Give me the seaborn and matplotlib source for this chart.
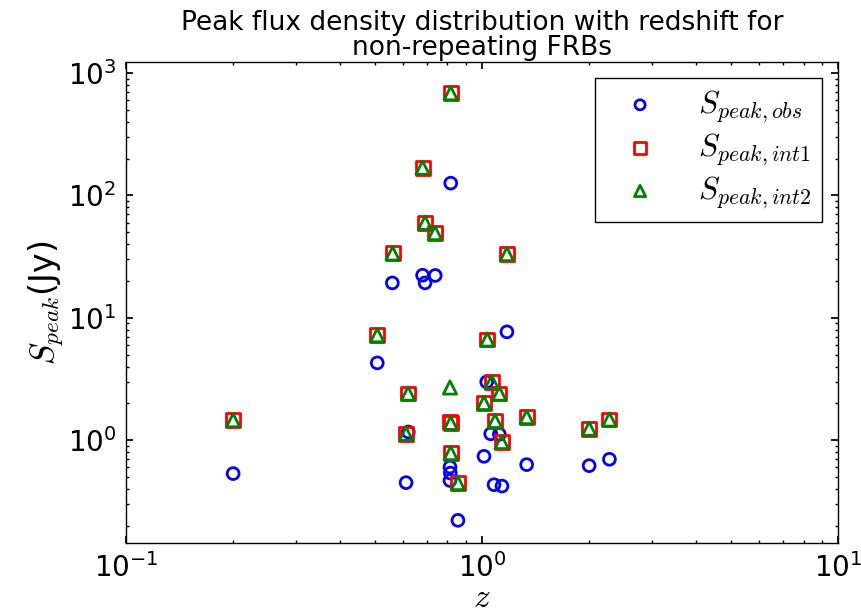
import numpy as np
import pandas as pd
import seaborn as sns
import matplotlib
matplotlib.use("Agg")
import matplotlib.pyplot as plt
from matplotlib.ticker import LogLocator

# ---- data ----
z_obs = [0.20, 0.508, 0.560, 0.612, 0.621, 0.681, 0.692, 0.739, 0.817, 0.813,
         0.815, 0.813, 0.856, 1.013, 1.031, 1.058, 1.081, 1.119, 1.138, 1.175,
         1.335, 2.00, 2.28]
s_obs = [0.535, 4.29, 19.3, 0.451, 1.17, 22.3, 19.3, 22.2, 126.0, 0.605,
         0.54, 0.47, 0.222, 0.74, 3.0, 1.13, 0.434, 1.12, 0.423, 7.69,
         0.633, 0.621, 0.70]

z_int = [0.20, 0.508, 0.561, 0.612, 0.620, 0.681, 0.692, 0.738, 0.817, 0.817,
         0.813, 0.817, 0.856, 1.013, 1.035, 1.065, 1.088, 1.119, 1.136, 1.175,
         1.335, 2.00, 2.28]
s_int1 = [1.46, 7.22, 33.6, 1.13, 2.41, 168.6, 59.8, 49.3, 684.0, 1.38,
          1.40, 0.787, 0.448, 2.02, 6.66, 3.0, 1.44, 2.41, 0.969, 33.2,
          1.55, 1.245, 1.48]
s_int2 = [1.46, 7.22, 33.6, 1.13, 2.41, 168.6, 59.8, 49.3, 684.0, 1.38,
          2.70, 0.787, 0.448, 2.02, 6.66, 3.0, 1.44, 2.41, 0.969, 33.2,
          1.55, 1.245, 1.48]

labels = [r'$S_{peak,obs}$', r'$S_{peak,int1}$', r'$S_{peak,int2}$']
title = "Peak flux density distribution with redshift for\nnon-repeating FRBs"

sns.set_theme(style="white")
plt.rcParams.update({
    "font.family": ["DejaVu Sans"],
    "mathtext.fontset": "cm",
    "text.color": "black",
    "axes.labelcolor": "black",
    "axes.edgecolor": "black",
    "axes.linewidth": 1.0,
    "xtick.direction": "in",
    "ytick.direction": "in",
    "xtick.top": True,
    "ytick.right": True,
    "xtick.bottom": True,
    "ytick.left": True,
    "xtick.major.size": 5,
    "ytick.major.size": 5,
    "xtick.minor.size": 2.5,
    "ytick.minor.size": 2.5,
    "xtick.color": "black",
    "ytick.color": "black",
    "xtick.labelsize": 20,
    "ytick.labelsize": 20,
    "xtick.major.pad": 7,
    "ytick.major.pad": 7,
})

fig = plt.figure(figsize=(8.61, 6.16), dpi=100)
ax = fig.add_axes([0.1463, 0.1185, 0.827, 0.7809])

df_obs = pd.DataFrame({"z": z_obs, "S": s_obs})
df_int = pd.DataFrame({"z": z_int, "S1": s_int1, "S2": s_int2})

sns.scatterplot(data=df_obs, x="z", y="S", ax=ax, marker="o", s=8.5 ** 2,
                facecolors="none", edgecolor="blue", linewidth=2,
                label=labels[0], zorder=3)
sns.scatterplot(data=df_int, x="z", y="S1", ax=ax, marker="s", s=10 ** 2,
                facecolors="none", edgecolor="red", linewidth=2,
                label=labels[1], zorder=4)
sns.scatterplot(data=df_int, x="z", y="S2", ax=ax, marker="^", s=9.5 ** 2,
                facecolors="none", edgecolor="green", linewidth=2,
                label=labels[2], zorder=5)

ax.set_xscale("log")
ax.set_yscale("log")
ax.set_xlim(0.1, 10)
ax.set_ylim(0.145, 1230)
for axis in (ax.xaxis, ax.yaxis):
    axis.set_major_locator(LogLocator(base=10))
    axis.set_minor_locator(LogLocator(base=10, subs=np.arange(2, 10)))
ax.tick_params(which="both", direction="in", top=True, right=True)

ax.set_xlabel(r"$z$", fontsize=24, labelpad=-1)
ax.set_ylabel(r"$S_{peak}$(Jy)", fontsize=24, labelpad=2)
ax.set_title(title, fontsize=19, pad=5, linespacing=0.95, color="black")

leg = ax.legend(loc="upper right", fontsize=22.5, frameon=True, fancybox=False,
                edgecolor="black", framealpha=1, markerscale=0.85,
                handletextpad=0.75, labelspacing=0.22, borderpad=0.35,
                borderaxespad=0.5, handlelength=2.2)
leg.get_frame().set_linewidth(1.0)

for sp in ax.spines.values():
    sp.set_visible(True)
    sp.set_color("black")

fig.savefig("out.png", dpi=100)
